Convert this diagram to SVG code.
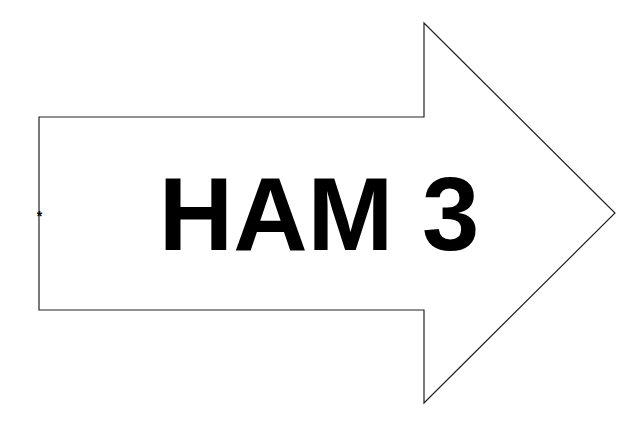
<svg xmlns="http://www.w3.org/2000/svg" width="621" height="422" viewBox="0 0 621 422">
<style>
.arrow{fill:#ffffff;stroke:#222222;stroke-width:1.2;stroke-linejoin:miter}
.label{font-family:"Liberation Sans",Arial,sans-serif;font-weight:bold;fill:#000000}
</style>
<rect width="621" height="422" fill="#ffffff"/>
<g id="arrow">
<polygon class="arrow" points="39,117 424,117 424,23 615,213 424,403 424,310 39,310"/>
<text class="label" x="319" y="250" font-size="103" text-anchor="middle">HAM 3</text>
</g>
<g id="marker">
<text class="label" x="39.5" y="221" font-size="14" text-anchor="middle">*</text>
</g>
</svg>
